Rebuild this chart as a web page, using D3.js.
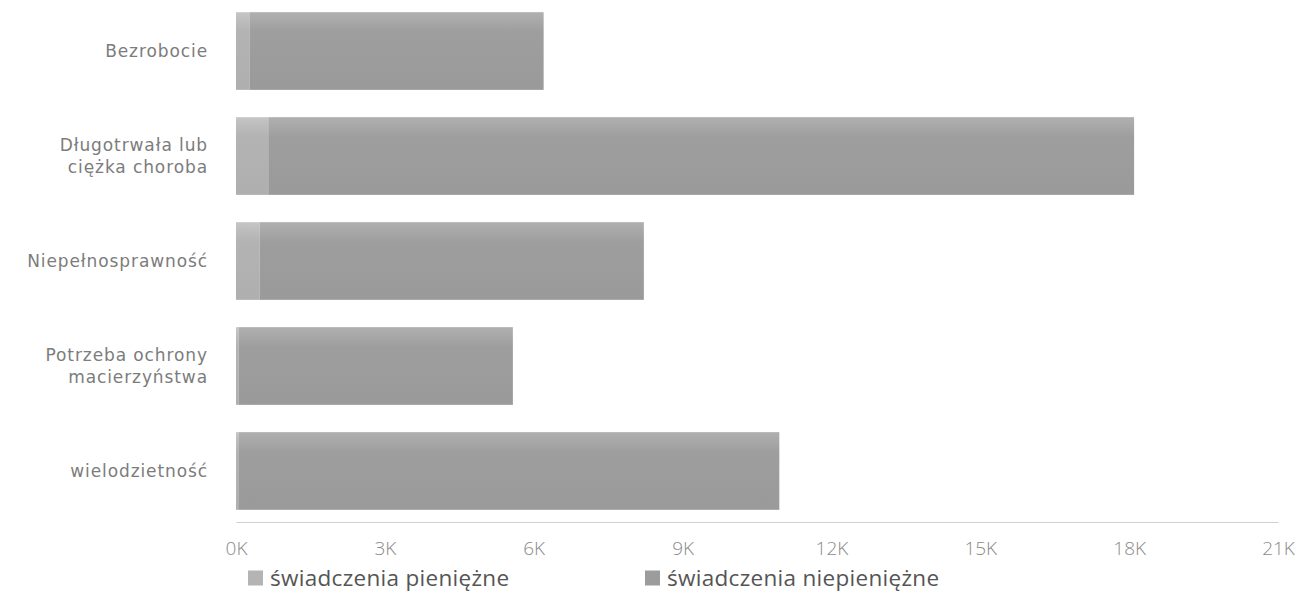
<!DOCTYPE html>
<html>
<head>
<meta charset="utf-8">
<script src="https://cdn.jsdelivr.net/npm/d3@7"></script>
<style>
  html, body { margin: 0; padding: 0; background: #fff; }
  svg { display: block; }
</style>
</head>
<body>
<svg id="chart" width="1300" height="603"></svg>
<script>
// ---- data ----
const categories = [
  ["Bezrobocie"],
  ["Długotrwała lub", "ciężka choroba"],
  ["Niepełnosprawność"],
  ["Potrzeba ochrony", "macierzyństwa"],
  ["wielodzietność"]
];
const seriesNames = ["świadczenia pieniężne", "świadczenia niepieniężne"];
const pieniezne    = [270, 650, 480, 50, 60];
const niepieniezne = [5930, 17450, 7740, 5530, 10890];
const tickValues = [0, 3000, 6000, 9000, 12000, 15000, 18000, 21000];
const tickLabels = ["0K", "3K", "6K", "9K", "12K", "15K", "18K", "21K"];

// ---- layout ----
const svg = d3.select("#chart");
const x0 = 236, x1 = 1278, yTop = 0, yAxis = 522;

const x = d3.scaleLinear().domain([0, 21000]).range([x0, x1]);
const y = d3.scaleBand().domain(d3.range(categories.length))
  .range([yTop, yAxis]).paddingInner(0.26).paddingOuter(0.116);

const colors = ["#b4b4b4", "#9c9c9c"];

// gradients to mimic slight top highlight
const defs = svg.append("defs");
const gradStops = [
  [["0%", "#c6c6c6"], ["10%", "#bdbdbd"], ["25%", "#b3b3b3"], ["100%", "#afafaf"]],
  [["0%", "#b0b0b0"], ["10%", "#a9a9a9"], ["25%", "#9e9e9e"], ["100%", "#9a9a9a"]]
];
gradStops.forEach((stops, i) => {
  const g = defs.append("linearGradient").attr("id", "g" + i)
    .attr("x1", 0).attr("y1", 0).attr("x2", 0).attr("y2", 1);
  stops.forEach(s => g.append("stop").attr("offset", s[0]).attr("stop-color", s[1]));
});

const stackData = categories.map((c, i) => ({ i, a: pieniezne[i], b: niepieniezne[i] }));
const stack = d3.stack().keys(["a", "b"])(stackData);

svg.append("g").selectAll("g").data(stack).join("g")
  .attr("fill", (d, k) => `url(#g${k})`)
  .selectAll("rect").data(d => d).join("rect")
  .attr("x", d => x(d[0]))
  .attr("y", d => y(d.data.i))
  .attr("width", d => x(d[1]) - x(d[0]))
  .attr("height", y.bandwidth());

// x axis
const xAxis = d3.axisBottom(x).tickValues(tickValues)
  .tickFormat((d, i) => tickLabels[i]).tickSize(0).tickPadding(0);
const gx = svg.append("g").attr("transform", `translate(0,${yAxis})`).call(xAxis);
gx.select(".domain").attr("stroke", "#d0d0d0").attr("stroke-width", 1.2);
gx.selectAll("text")
  .attr("y", 26).attr("dy", "0.35em")
  .attr("fill", "#8a8a8a")
  .style("font-family", "'Open Sans', sans-serif")
  .style("font-weight", 300)
  .style("font-size", "19px");

// category labels
const labelX = 208;
const lab = svg.append("g").selectAll("text").data(categories).join("text")
  .attr("text-anchor", "end")
  .attr("fill", "#7c7c7c")
  .style("font-family", "'DejaVu Sans', sans-serif")
  .style("font-size", "17px")
  .style("letter-spacing", "0.9px")
  .attr("transform", (d, i) => `translate(${labelX},${y(i) + y.bandwidth() / 2})`);
lab.selectAll("tspan").data(d => d.map((t, j) => ({ t, j, n: d.length }))).join("tspan")
  .attr("x", 0)
  .attr("y", d => (d.j - (d.n - 1) / 2) * 22)
  .attr("dy", "0.35em")
  .text(d => d.t);

// legend
const legendX = [248, 645];
const leg = svg.append("g").selectAll("g").data(seriesNames).join("g")
  .attr("transform", (d, i) => `translate(${legendX[i]},578)`);
leg.append("rect").attr("x", 0).attr("y", -7.5).attr("width", 15).attr("height", 15)
  .attr("fill", (d, i) => colors[i]);
leg.append("text").attr("x", 22).attr("dy", "0.35em")
  .attr("fill", "#555")
  .style("font-family", "'Open Sans', sans-serif")
  .style("font-size", "22.5px")
  .style("letter-spacing", "0.3px")
  .text(d => d);
</script>
</body>
</html>
